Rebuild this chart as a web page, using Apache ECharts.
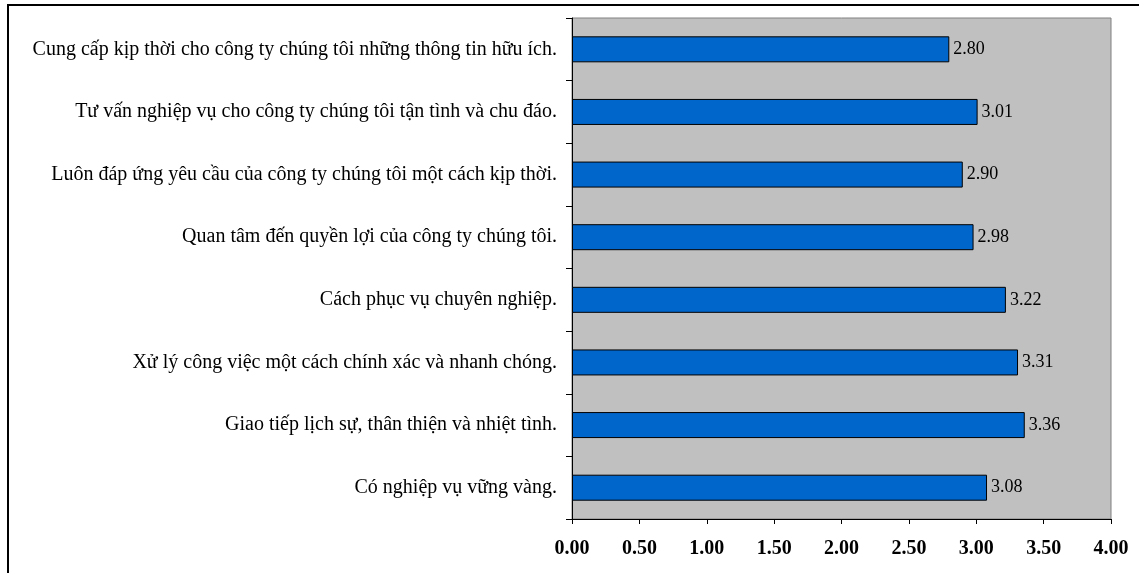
<!DOCTYPE html>
<html><head><meta charset="utf-8">
<script src="https://cdn.jsdelivr.net/npm/echarts@6/dist/echarts.min.js"></script>
<style>html,body{margin:0;padding:0;background:#fff}#c{width:1139px;height:573px}</style>
</head><body><div id="c"></div>
<script>
const categories = [
  "Cung cấp kịp thời cho công ty chúng tôi những thông tin hữu ích.",
  "Tư vấn nghiệp vụ cho công ty chúng tôi tận tình và chu đáo.",
  "Luôn đáp ứng yêu cầu của công ty chúng tôi một cách kịp thời.",
  "Quan tâm đến quyền lợi của công ty chúng tôi.",
  "Cách phục vụ chuyên nghiệp.",
  "Xử lý công việc một cách chính xác và nhanh chóng.",
  "Giao tiếp lịch sự, thân thiện và nhiệt tình.",
  "Có nghiệp vụ vững vàng."
];
const values = [2.80, 3.01, 2.90, 2.98, 3.22, 3.31, 3.36, 3.08];
const xMin = 0, xMax = 4, xStep = 0.5;

const font = "'Liberation Serif','Times New Roman',serif";
const chart = echarts.init(document.getElementById('c'));
chart.setOption({
  animation: false,
  backgroundColor: '#fff',
  graphic: [{
    type: 'rect', z: 100, silent: true,
    shape: { x: 8, y: 5, width: 1300, height: 800 },
    style: { fill: 'none', stroke: '#000', lineWidth: 2 }
  }],
  grid: {
    left: 572, right: 28, top: 18, bottom: 54,
    show: true, backgroundColor: '#c0c0c0', borderColor: '#808080', borderWidth: 1
  },
  xAxis: {
    type: 'value', min: xMin, max: xMax, interval: xStep,
    axisLine: { show: true, lineStyle: { color: '#000', width: 1 } },
    axisTick: { show: true, length: 5, lineStyle: { color: '#000' } },
    splitLine: { show: false },
    axisLabel: {
      margin: 20, color: '#000', fontFamily: font, fontWeight: 'bold', fontSize: 20,
      formatter: v => v.toFixed(2)
    }
  },
  yAxis: {
    type: 'category', data: categories, inverse: true,
    axisLine: { show: true, lineStyle: { color: '#000', width: 1 } },
    axisTick: { show: true, length: 6, lineStyle: { color: '#000' } },
    axisLabel: { margin: 15, color: '#000', fontFamily: font, fontSize: 20 }
  },
  series: [{
    type: 'bar', data: values, barWidth: 26,
    itemStyle: { color: '#0066cc', borderColor: '#000', borderWidth: 1 },
    label: {
      show: true, position: 'right', distance: 4, color: '#000',
      fontFamily: font, fontSize: 18, formatter: p => p.value.toFixed(2)
    }
  }]
});
</script></body></html>
